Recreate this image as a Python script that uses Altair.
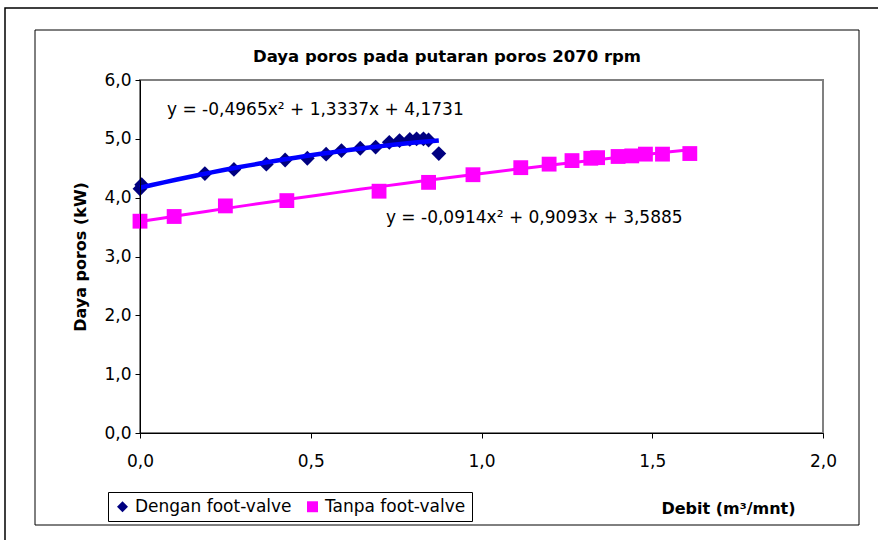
import altair as alt
import pandas as pd

# Dengan foot-valve (blue diamonds)
dengan_x = [0.0, 0.005, 0.19, 0.275, 0.37, 0.425, 0.49, 0.545, 0.59, 0.645, 0.69, 0.73, 0.76, 0.79, 0.81, 0.83, 0.845, 0.875]
dengan_y = [4.15, 4.22, 4.41, 4.48, 4.57, 4.64, 4.67, 4.74, 4.80, 4.84, 4.86, 4.94, 4.97, 4.99, 5.00, 5.00, 4.98, 4.75]

# Tanpa foot-valve (magenta squares)
tanpa_x = [0.0, 0.10, 0.25, 0.43, 0.70, 0.845, 0.975, 1.115, 1.198, 1.265, 1.32, 1.34, 1.40, 1.44, 1.48, 1.53, 1.61]
tanpa_y = [3.60, 3.68, 3.86, 3.95, 4.11, 4.26, 4.39, 4.51, 4.57, 4.63, 4.67, 4.68, 4.70, 4.71, 4.74, 4.74, 4.75]

series_names = ["Dengan foot-valve", "Tanpa foot-valve"]
marker_colors = ["#000080", "#FF00FF"]
trend_colors = ["#0000FF", "#FF00FF"]
marker_shapes = ["diamond", "square"]

equations = ["y = -0,4965x² + 1,3337x + 4,1731", "y = -0,0914x² + 0,9093x + 3,5885"]
eq_x = [0.079, 0.72]
eq_y = [5.49, 3.65]

title_text = "Daya poros pada putaran poros 2070 rpm"
y_title = "Daya poros (kW)"
x_title = "Debit (m³/mnt)"

FONT = "DejaVu Sans"
FS = 17

df = pd.DataFrame(
    {"x": dengan_x + tanpa_x,
     "y": dengan_y + tanpa_y,
     "series": [series_names[0]] * len(dengan_x) + [series_names[1]] * len(tanpa_x)}
)
eq_df = pd.DataFrame({"x": eq_x, "y": eq_y, "label": equations})

fmt = "replace(format(datum.value, '.1f'), '.', ',')"

xscale = alt.Scale(domain=[0, 2], nice=False, zero=False)
yscale = alt.Scale(domain=[0, 6], nice=False)

x_enc = alt.X("x:Q", scale=xscale, axis=alt.Axis(
    values=[0, 0.5, 1.0, 1.5, 2.0], labelExpr=fmt, title=x_title, labelFlush=False,
    grid=False, domainColor="black", tickColor="black", tickSize=5, zindex=1,
    labelFont=FONT, labelFontSize=FS, labelColor="black", labelPadding=15,
    titleFont=FONT, titleFontSize=16, titleFontWeight="bold", titleColor="black",
    titleX=588, titleY=75, titleAnchor="middle", titleAlign="center", titleBaseline="middle",
))
y_enc = alt.Y("y:Q", scale=yscale, axis=alt.Axis(
    values=[0, 1, 2, 3, 4, 5, 6], labelExpr=fmt, title=y_title, labelFlush=False,
    grid=False, domainColor="black", tickColor="black", tickSize=5, zindex=1,
    labelFont=FONT, labelFontSize=FS, labelColor="black", labelPadding=4,
    titleFont=FONT, titleFontSize=16, titleFontWeight="bold", titleColor="black",
    titlePadding=15,
))

base = alt.Chart(df)

points = base.mark_point(filled=True, opacity=1, strokeWidth=0).encode(
    x=x_enc, y=y_enc,
    color=alt.Color("series:N", scale=alt.Scale(domain=series_names, range=marker_colors),
                    legend=alt.Legend(
                        title=None, orient="none", legendX=-32, legendY=412,
                        direction="horizontal", strokeColor="black", fillColor="white",
                        padding=6, labelFont=FONT, labelFontSize=FS, labelColor="black",
                        symbolSize=120, symbolStrokeWidth=0, columnPadding=12,
                        labelOffset=4, cornerRadius=0)),
    shape=alt.Shape("series:N", scale=alt.Scale(domain=series_names, range=marker_shapes)),
    size=alt.value(220),
)

def trend(i, width):
    return base.transform_filter(
        alt.datum.series == series_names[i]
    ).transform_regression("x", "y", method="poly", order=2).mark_line(
        color=trend_colors[i], strokeWidth=width
    ).encode(x="x:Q", y="y:Q")

eq_text = alt.Chart(eq_df).mark_text(
    align="left", baseline="middle", font=FONT, fontSize=FS, color="black"
).encode(x="x:Q", y="y:Q", text="label:N")

frame_data = alt.Data(values=[{"k": 1}])
outer_frame = alt.Chart(frame_data).mark_rect(fill=None, stroke="black", strokeWidth=1.5).encode(
    x=alt.value(-135), x2=alt.value(780), y=alt.value(-72), y2=alt.value(500))
inner_frame = alt.Chart(frame_data).mark_rect(fill=None, stroke="black", strokeWidth=1).encode(
    x=alt.value(-105), x2=alt.value(719), y=alt.value(-50), y2=alt.value(445))
title_mark = alt.Chart(alt.Data(values=[{"t": title_text}])).mark_text(
    font=FONT, fontSize=16.5, fontWeight="bold", color="black", align="center", baseline="middle"
).encode(x=alt.value(307), y=alt.value(-23), text="t:N")

chart = alt.layer(
    outer_frame, inner_frame, title_mark, points, trend(0, 4.5), trend(1, 3), eq_text
).properties(
    width=683, height=353,
    padding={"left": 140, "top": 80, "right": 55, "bottom": 107},
    autosize=alt.AutoSizeParams(type="none"),
    background="white",
).configure_view(
    stroke="#808080", strokeWidth=2
)

chart.save("out.html", embed_options={"renderer": "svg", "actions": False})
